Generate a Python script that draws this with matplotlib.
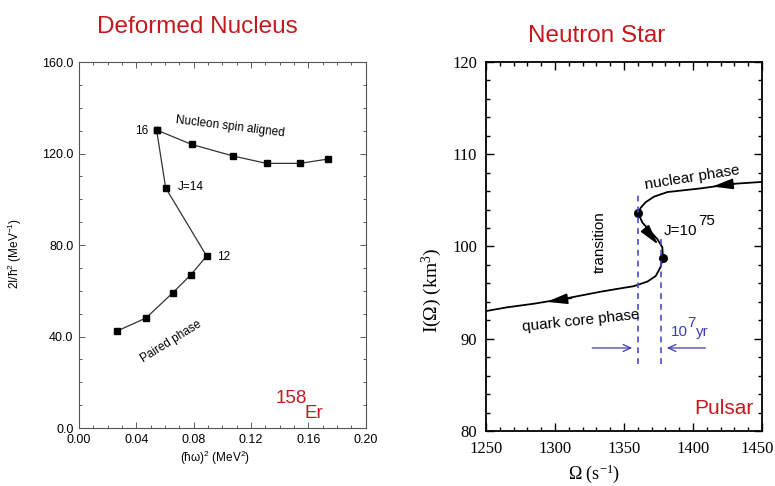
import matplotlib
matplotlib.use("Agg")
import matplotlib.pyplot as plt
import matplotlib.transforms as mtransforms
import numpy as np

# ---- left panel: deformed nucleus (158Er) ----
hw2_paired = [0.0265, 0.0467, 0.0655, 0.078, 0.089, 0.0604, 0.0541]
mom_paired = [42.4, 48.1, 59.2, 67.0, 75.2, 105.0, 130.3]
hw2_aligned = [0.0541, 0.0785, 0.1076, 0.1308, 0.154, 0.1737]
mom_aligned = [130.3, 124.0, 118.9, 115.7, 115.7, 117.6]

# ---- right panel: neutron star I(Omega) track ----
omega = [1450, 1429.7, 1420, 1405.6, 1393.5, 1381.4, 1371.7, 1365.7, 1362.1,
         1360.4, 1363.3, 1369.3, 1374.2, 1377.8, 1378.2, 1376.6, 1373.0,
         1367.0, 1357.2, 1345.0, 1333.1, 1309.0, 1284.8, 1265.0, 1250]
inertia = [107.0, 106.8, 106.6, 106.3, 106.1, 105.9, 105.4, 104.8, 104.2,
           103.6, 102.6, 101.6, 100.8, 99.9, 98.8, 97.8, 96.8,
           96.2, 95.7, 95.4, 95.1, 94.4, 93.8, 93.4, 93.0]
turn_omega = [1360.4, 1378.2]
turn_inertia = [103.6, 98.8]
# arrowheads along the track (tail -> tip)
arrow_tail = [(1430, 106.8), (1366.0, 101.8), (1312, 94.4)]
arrow_tip = [(1414, 106.5), (1374.8, 100.2), (1294, 94.0)]
# transition window
trans_omega = [1360, 1377]
trans_top = [106.0, 101.0]
trans_bottom = 87.3
window_arrows = [((1327, 89.0), (1356, 89.0)), ((1409, 89.0), (1381, 89.0))]

RED = "#c41a1f"
SANS = ["Liberation Sans", "DejaVu Sans"]
SERIF = ["Liberation Serif", "DejaVu Serif"]

fig = plt.figure(figsize=(7.75, 4.86), dpi=100)

# ---------------- left ----------------
axL = fig.add_axes([0.102, 0.1193, 0.370, 0.753])
axL.plot(hw2_paired, mom_paired, "-s", color="#333333", lw=0.9,
         ms=4.5, mfc="k", mec="k")
axL.plot(hw2_aligned, mom_aligned, "-s", color="#333333", lw=0.9,
         ms=4.5, mfc="k", mec="k")
axL.set_xlim(0, 0.20)
axL.set_ylim(0, 160)
axL.set_xticks(np.arange(0, 0.201, 0.04))
axL.set_xticks(np.arange(0, 0.201, 0.01), minor=True)
axL.set_yticks(np.arange(0, 161, 40))
axL.set_yticks(np.arange(0, 161, 10), minor=True)
axL.set_xticklabels(["%.2f" % v for v in np.arange(0, 0.201, 0.04)])
axL.set_yticklabels(["%.1f" % v for v in np.arange(0, 161, 40)])
axL.tick_params(which="both", direction="in", top=True, right=True,
                width=0.6, color="#444444")
axL.tick_params(which="major", length=4, labelsize=9, pad=4)
axL.tick_params(which="minor", length=2)
for lab in axL.get_xticklabels() + axL.get_yticklabels():
    lab.set_family(SANS)
for sp in axL.spines.values():
    sp.set_linewidth(0.8)
    sp.set_color("#555555")

axL.text(0.1052, 131.9, "Nucleon spin aligned", rotation=-7, fontsize=8.5,
         family=SANS, ha="center", va="center")
axL.text(0.048, 130.0, "16", fontsize=8.5, family=SANS, ha="right", va="center")
axL.text(0.069, 105.2, "J=14", fontsize=8.5, family=SANS, ha="left", va="center")
axL.text(0.0962, 74.8, "12", fontsize=8.5, family=SANS, ha="left", va="center")
axL.text(0.064, 37.7, "Paired phase", rotation=32, fontsize=8.5,
         family=SANS, ha="center", va="center")
axL.text(0.1373, 11.0, "158", fontsize=13.5, color=RED, family=SANS,
         ha="left", va="baseline")
axL.text(0.1575, 4.2, "Er", fontsize=13.5, color=RED, family=SANS,
         ha="left", va="baseline")

fig.text(0.019, 0.479, "2I/ħ$\\mathregular{^2}$ (MeV$\\mathregular{^{-1}}$)",
         rotation=90, fontsize=8.5, family=SANS, ha="center", va="center")
fig.text(0.2774, 0.057, "(ħω)$\\mathregular{^2}$ (MeV$\\mathregular{^2}$)",
         fontsize=8.5, family=SANS, ha="center", va="center")

# ---------------- right ----------------
axR = fig.add_axes([0.6271, 0.1132, 0.3561, 0.7592])
axR.plot(omega, inertia, color="k", lw=1.3, solid_capstyle="round")
axR.plot(turn_omega, turn_inertia, "o", color="k", ms=5.5)
for tail, tip in zip(arrow_tail, arrow_tip):
    axR.annotate("", xy=tip, xytext=tail,
                 arrowprops=dict(arrowstyle="-|>,head_length=1.25,head_width=0.32",
                                 color="k", lw=1.2, shrinkA=0, shrinkB=0,
                                 mutation_scale=10))
axR.vlines(trans_omega, trans_bottom, trans_top, colors="#4b4bc8",
           linestyles=(0, (3.5, 3)), lw=1.2)
for tail, tip in window_arrows:
    axR.annotate("", xy=tip, xytext=tail,
                 arrowprops=dict(arrowstyle="->,head_length=0.55,head_width=0.25",
                                 color="#3c3cb4", lw=0.9, shrinkA=0, shrinkB=0,
                                 mutation_scale=10))

axR.set_xlim(1250, 1450)
axR.set_ylim(80, 120)
axR.set_xticks(np.arange(1250, 1451, 50))
axR.set_xticks(np.arange(1250, 1451, 10), minor=True)
axR.set_yticks(np.arange(80, 121, 10))
axR.set_yticks(np.arange(80, 121, 2), minor=True)
axR.tick_params(which="both", direction="in", top=True, right=True, width=1)
axR.tick_params(which="major", length=5.5, labelsize=12)
axR.tick_params(axis="x", which="major", pad=7)
axR.tick_params(axis="y", which="major", pad=6.5)
axR.tick_params(which="minor", length=3)
for lab in axR.get_xticklabels() + axR.get_yticklabels():
    lab.set_family(SERIF)
# nudge the last x label so it stays inside the figure
last = axR.get_xticklabels()[-1]
last.set_transform(last.get_transform() +
                   mtransforms.ScaledTranslation(-5 / 100, 0, fig.dpi_scale_trans))
for sp in axR.spines.values():
    sp.set_linewidth(1.3)

axR.text(1399.6, 107.45, "nuclear phase", rotation=9, fontsize=11,
         family=SANS, ha="center", va="center")
axR.text(1378.8, 101.2, "J=10", fontsize=11, family=SANS,
         ha="left", va="baseline")
axR.text(1403.5, 102.3, "75", fontsize=11, family=SANS,
         ha="left", va="baseline")
axR.text(1332.3, 100.5, "transition", rotation=90, fontsize=11,
         family=SANS, ha="center", va="center")
axR.text(1318.6, 91.9, "quark core phase", rotation=6, fontsize=11,
         family=SANS, ha="center", va="center")
axR.text(1384.0, 90.3, "10", fontsize=11, color="#3c3cb4", family=SANS,
         ha="left", va="baseline")
axR.text(1396.0, 91.3, "7", fontsize=11, color="#3c3cb4", family=SANS,
         ha="left", va="baseline")
axR.text(1402.5, 90.3, "yr", fontsize=11, color="#3c3cb4", family=SANS,
         ha="left", va="baseline")
axR.text(1443.8, 81.85, "Pulsar", fontsize=15, color=RED, family=SANS,
         ha="right", va="baseline")

axR.set_ylabel("I(Ω) (km$\\mathregular{^3}$)", fontsize=14, family=SERIF,
               va="center")
axR.yaxis.set_label_coords(-0.195, 0.382)
axR.set_xlabel("Ω (s$\\mathregular{^{-1}}$)", fontsize=13, family=SERIF,
               va="center")
axR.xaxis.set_label_coords(0.39, -0.116)

# ---------------- titles ----------------
fig.text(0.125, 0.932, "Deformed Nucleus", fontsize=17.5, color=RED,
         family=SANS, ha="left", va="baseline")
fig.text(0.681, 0.9136, "Neutron Star", fontsize=17.5, color=RED,
         family=SANS, ha="left", va="baseline")

fig.savefig("out.png", dpi=100)
